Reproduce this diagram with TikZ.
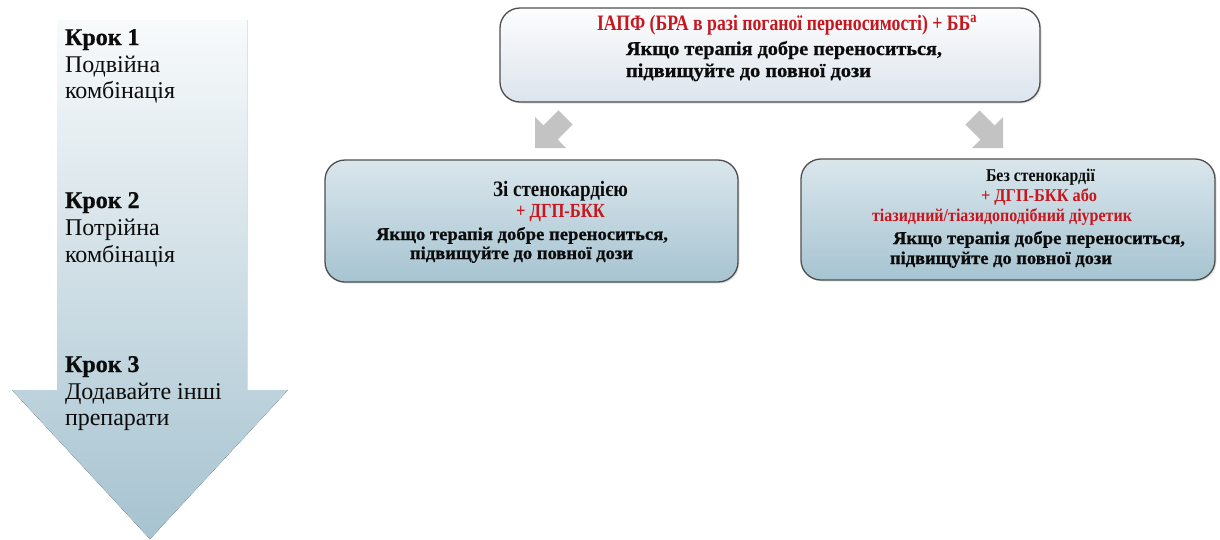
\documentclass[tikz,border=0pt]{standalone}
\usepackage{fontspec}
\setmainfont{Liberation Serif}
% a slightly heavier bold for headings and card texts
\newfontfamily\heavy{Liberation Serif}[BoldFeatures={FakeBold=0.7}]
\usepackage{graphicx}
\usetikzlibrary{shadows}

\definecolor{ink}{RGB}{12,12,12}
\definecolor{drug}{RGB}{200,22,30}
\definecolor{framecol}{RGB}{78,78,78}
\definecolor{flowtop}{RGB}{248,250,251}
\definecolor{flowbot}{RGB}{166,195,208}
\definecolor{paletop}{RGB}{253,253,254}
\definecolor{palebot}{RGB}{220,228,236}
\definecolor{bluetop}{RGB}{218,230,236}
\definecolor{bluebot}{RGB}{166,196,209}
\definecolor{pointer}{RGB}{195,195,195}

% squeeze or stretch a line of text to a given width, keeping its height
\newcommand\fitw[2]{\resizebox{#1}{\height}{#2}}

\begin{document}
\begin{tikzpicture}[x=1pt,y=-1pt,
  line/.style={anchor=base west, inner sep=0pt, outer sep=0pt, text=ink},
  stephead/.style={line, font=\fontsize{24}{28}\selectfont\heavy\bfseries},
  stepnote/.style={line, font=\fontsize{24}{28}\selectfont},
  note/.style={line},
  drugline/.style={line, text=drug},
  card/.style={draw=framecol, line width=1.3pt, rounded corners=20pt,
    inner sep=0pt, drop shadow={opacity=0.22, shadow xshift=1.5pt, shadow yshift=-1.5pt}},
  firstcard/.style={card, top color=paletop, bottom color=palebot},
  secondcard/.style={card, top color=bluetop, bottom color=bluebot},
  pointerarrow/.style={fill=pointer, draw=none}
]
\useasboundingbox (0,0) rectangle (1220,539);

% the wide downward arrow carrying the steps
\fill[top color=flowtop, bottom color=flowbot]
  (57,20) -- (247,20) -- (247,390) -- (288,390) -- (150,539) -- (12,390) -- (57,390) -- cycle;

\node[stephead] (s1) at (65,45) {Крок 1};
\node[stepnote] (s1a) at (65,72) {Подвійна};
\node[stepnote] (s1b) at (65,98) {комбінація};
\node[stephead] (s2) at (65,208) {Крок 2};
\node[stepnote] (s2a) at (65,235) {Потрійна};
\node[stepnote] (s2b) at (65,262) {комбінація};
\node[stephead] (s3) at (65,372) {Крок 3};
\node[stepnote] (s3a) at (65,399) {Додавайте інші};
\node[stepnote] (s3b) at (65,425) {препарати};

% treatment cards
\node[firstcard, minimum width=540pt, minimum height=94pt] (top) at (770,55) {};
\node[secondcard, minimum width=413pt, minimum height=122pt] (angina) at (531.5,221) {};
\node[secondcard, minimum width=414pt, minimum height=121pt] (noangina) at (1008,219.5) {};

% first card
\node[drugline, font=\fontsize{22}{24}\selectfont\bfseries] (t1) at (597,30)
  {\fitw{380pt}{ІАПФ (БРА в разі поганої переносимості) + ББ\textsuperscript{a}}};
\node[note, font=\fontsize{19.5}{22}\selectfont\heavy\bfseries] (t2) at (626,55)
  {\fitw{316pt}{Якщо терапія добре переноситься,}};
\node[note, font=\fontsize{19.5}{22}\selectfont\heavy\bfseries] (t3) at (626,77)
  {\fitw{245pt}{підвищуйте до повної дози}};

% card for patients with angina
\node[note, font=\fontsize{22}{24}\selectfont\bfseries] (a1) at (493,196)
  {\fitw{135pt}{Зі стенокардією}};
\node[drugline, font=\fontsize{20}{22}\selectfont\bfseries] (a2) at (516,217)
  {\fitw{89pt}{+ ДГП-БКК}};
\node[note, font=\fontsize{18}{21}\selectfont\heavy\bfseries] (a3) at (376,240)
  {\fitw{292pt}{Якщо терапія добре переноситься,}};
\node[note, font=\fontsize{18}{21}\selectfont\heavy\bfseries] (a4) at (410,259)
  {\fitw{223pt}{підвищуйте до повної дози}};

% card for patients without angina
\node[note, font=\fontsize{18}{20}\selectfont\bfseries] (n1) at (986,181)
  {\fitw{109pt}{Без стенокардії}};
\node[drugline, font=\fontsize{18}{20}\selectfont\bfseries] (n2) at (981,201)
  {\fitw{116pt}{+ ДГП-БКК або}};
\node[drugline, font=\fontsize{18}{20}\selectfont\bfseries] (n3) at (872,221)
  {\fitw{260pt}{тіазидний/тіазидоподібний діуретик}};
\node[note, font=\fontsize{18}{21}\selectfont\heavy\bfseries] (n4) at (893,244)
  {\fitw{292pt}{Якщо терапія добре переноситься,}};
\node[note, font=\fontsize{18}{21}\selectfont\heavy\bfseries] (n5) at (890,264)
  {\fitw{222pt}{підвищуйте до повної дози}};

% grey block arrows leading from the first card to the two branches
\fill[pointerarrow] (535,117) -- (543.4,125.4) -- (558.4,110.4) -- (572.6,124.6)
  -- (557.6,139.6) -- (566,148) -- (535,148) -- cycle;
\fill[pointerarrow] (1003,117) -- (994.6,125.4) -- (979.6,110.4) -- (965.4,124.6)
  -- (980.4,139.6) -- (972,148) -- (1003,148) -- cycle;
\end{tikzpicture}
\end{document}
